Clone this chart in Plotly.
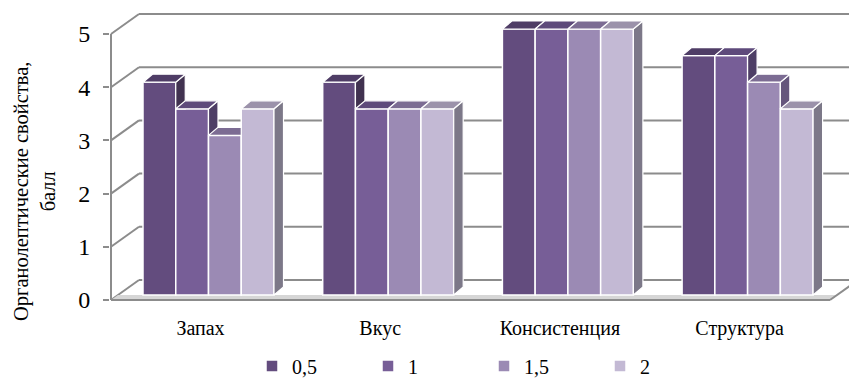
import plotly.graph_objects as go

# ---- data -------------------------------------------------------------
categories = ["Запах", "Вкус", "Консистенция", "Структура"]
series_names = ["0,5", "1", "1,5", "2"]
values_05 = [4.0, 4.0, 5.0, 4.5]
values_1 = [3.5, 3.5, 5.0, 4.5]
values_15 = [3.0, 3.5, 5.0, 4.0]
values_2 = [3.5, 3.5, 5.0, 3.5]
y_ticks = [0, 1, 2, 3, 4, 5]
y_title = "Органолептические свойства,<br>балл"

series_values = [values_05, values_1, values_15, values_2]

# ---- styling ----------------------------------------------------------
FONT = "Liberation Serif, Times New Roman, serif"
front_colors = ["#634C7E", "#775E97", "#9B8AB4", "#C3B9D4"]
top_colors = ["#4F3D66", "#5E4A7B", "#7C6C93", "#9B92AA"]
side_colors = ["#413250", "#4E3E66", "#65567C", "#7C7888"]
GRID = "#8C8C8C"

# ---- geometry (pixel layout converted to axis units) --------------------
FIG_W, FIG_H = 849, 385
PLOT_LEFT, PLOT_TOP, PLOT_BOTTOM = 110, 8, 305
PX_X = 179.7          # px per category
PX_Y = 53.2           # px per score unit
FIRST_GROUP_PX = 208.5
BASE_PX = 295

x_lo = -(FIRST_GROUP_PX - PLOT_LEFT) / PX_X
x_hi = x_lo + (FIG_W - PLOT_LEFT) / PX_X
y_lo = -(PLOT_BOTTOM - BASE_PX) / PX_Y
y_hi = (BASE_PX - PLOT_TOP) / PX_Y

FRONT_DY = -5 / PX_Y            # front axis sits slightly below the bar bases
FRONT_X = x_lo + 1 / PX_X
WALL_DX, WALL_DY = 28 / PX_X, 20 / PX_Y
FLOOR_X1 = x_lo + (830 - PLOT_LEFT) / PX_X
BAR_W = 32.75 / PX_X
BAR_DX, BAR_DY = 9.5 / PX_X, 8 / PX_Y
LABEL_SHIFT = 8 / PX_X

fig = go.Figure()

# front faces
for j, (name, vals) in enumerate(zip(series_names, series_values)):
    fig.add_trace(go.Bar(
        x=list(range(len(categories))), y=vals, name=name,
        offset=(j - 2) * BAR_W, width=BAR_W,
        marker=dict(color=front_colors[j], line=dict(color="white", width=1.5)),
        hoverinfo="skip",
    ))


def dedupe(pts):
    out = []
    for p in pts:
        if not out or abs(out[-1][0] - p[0]) > 1e-9 or abs(out[-1][1] - p[1]) > 1e-9:
            out.append(p)
    return out


def top_face(xl, xr, v, nv):
    dx, dy = BAR_DX, BAR_DY
    if nv is None or nv <= v:
        return [(xl, v), (xr, v), (xr + dx, v + dy), (xl + dx, v + dy)]
    c = min(nv, v + dy)
    t = (c - v) / dy
    pts = [(xl, v), (xr, v), (xr, c)]
    if t < 1:
        pts += [(xr + t * dx, c), (xr + dx, v + dy)]
    pts += [(xl + dx, v + dy)]
    return dedupe(pts)


def side_face(xr, v, c):
    dx, dy = BAR_DX, BAR_DY
    if c >= v:
        return None
    if c <= 0:
        return [(xr, 0), (xr + dx, dy), (xr + dx, v + dy), (xr, v)]
    if c < dy:
        return [(xr, c), (xr + c / dy * dx, c), (xr + dx, dy), (xr + dx, v + dy), (xr, v)]
    return [(xr, c), (xr + dx, c), (xr + dx, v + dy), (xr, v)]


def poly_xy(polys):
    xs, ys = [], []
    for p in polys:
        if not p:
            continue
        xs += [q[0] for q in p] + [p[0][0], None]
        ys += [q[1] for q in p] + [p[0][1], None]
    return xs, ys


tops = [[] for _ in series_names]
sides = [[] for _ in series_names]
for i in range(len(categories)):
    for j, vals in enumerate(series_values):
        v = vals[i]
        xl = i + (j - 2) * BAR_W
        xr = xl + BAR_W
        nv = series_values[j + 1][i] if j + 1 < len(series_values) else None
        tops[j].append(top_face(xl, xr, v, nv))
        sides[j].append(side_face(xr, v, nv if nv is not None else 0))

for j in range(len(series_names)):
    for polys, col in ((sides[j], side_colors[j]), (tops[j], top_colors[j])):
        xs, ys = poly_xy(polys)
        if not xs:
            continue
        fig.add_trace(go.Scatter(
            x=xs, y=ys, mode="lines", fill="toself", fillcolor=col,
            line=dict(color="white", width=1.2), showlegend=False,
            hoverinfo="skip",
        ))

# ---- walls and floor ---------------------------------------------------
shapes = []
line = dict(color=GRID, width=2)
for t in y_ticks:
    yb = FRONT_DY + WALL_DY + t
    shapes.append(dict(type="line", xref="x", yref="y", layer="below",
                       x0=FRONT_X + WALL_DX, x1=x_hi + 1, y0=yb, y1=yb, line=line))
    shapes.append(dict(type="line", xref="x", yref="y", layer="below",
                       x0=FRONT_X, x1=FRONT_X + WALL_DX,
                       y0=FRONT_DY + t, y1=yb, line=line))
# front axis line
shapes.append(dict(type="line", xref="x", yref="y", layer="below",
                   x0=FRONT_X, x1=FRONT_X, y0=FRONT_DY, y1=FRONT_DY + y_ticks[-1], line=line))
# floor slab edge shading
band = 5 / PX_Y
k = band * WALL_DX / WALL_DY
shapes.append(dict(type="path", xref="x", yref="y", layer="below",
                   path=(f"M{FRONT_X},{FRONT_DY} L{FLOOR_X1},{FRONT_DY} "
                         f"L{FLOOR_X1 + k},{FRONT_DY + band} L{FRONT_X + k},{FRONT_DY + band} Z"),
                   fillcolor="#D6D6D6", line=dict(width=0)))
# floor front edge and right edge
shapes.append(dict(type="line", xref="x", yref="y", layer="below",
                   x0=FRONT_X, x1=FLOOR_X1, y0=FRONT_DY, y1=FRONT_DY, line=line))
shapes.append(dict(type="line", xref="x", yref="y", layer="below",
                   x0=FLOOR_X1, x1=FLOOR_X1 + WALL_DX, y0=FRONT_DY, y1=FRONT_DY + WALL_DY,
                   line=line))

plot_w = FIG_W - PLOT_LEFT
plot_h = PLOT_BOTTOM - PLOT_TOP

fig.update_layout(
    width=FIG_W, height=FIG_H,
    margin=dict(l=PLOT_LEFT, r=0, t=PLOT_TOP, b=FIG_H - PLOT_BOTTOM, autoexpand=False),
    paper_bgcolor="white", plot_bgcolor="white",
    barmode="overlay",
    font=dict(family=FONT, color="black"),
    shapes=shapes,
    showlegend=True,
    legend=dict(orientation="h", x=(252 - PLOT_LEFT) / plot_w, xanchor="left",
                y=-0.205, yanchor="middle", font=dict(size=20, family=FONT),
                entrywidth=71, traceorder="normal", bgcolor="rgba(0,0,0,0)"),
    xaxis=dict(range=[x_lo, x_hi], visible=False, fixedrange=True),
    xaxis2=dict(range=[x_lo + LABEL_SHIFT, x_hi + LABEL_SHIFT], overlaying="x", anchor="y",
                side="bottom", tickvals=list(range(len(categories))), ticktext=categories,
                tickfont=dict(size=20, family=FONT), ticks="", showgrid=False,
                zeroline=False, showline=False, ticklabelstandoff=9),
    yaxis=dict(range=[y_lo, y_hi], visible=False, fixedrange=True),
    yaxis2=dict(range=[y_lo - FRONT_DY, y_hi - FRONT_DY], overlaying="y", anchor="x",
                side="left", tickvals=y_ticks, tickfont=dict(size=24, family=FONT),
                ticks="outside", ticklen=6, tickwidth=2, tickcolor=GRID,
                showgrid=False, zeroline=False, showline=False, ticklabelstandoff=8),
    annotations=[dict(
        text=y_title, textangle=-90, xref="paper", yref="paper",
        x=(34 - PLOT_LEFT) / plot_w, y=(PLOT_BOTTOM - 192) / plot_h,
        xanchor="center", yanchor="middle", showarrow=False,
        font=dict(size=20.5, family=FONT), align="center",
    )],
)

# invisible anchor trace so the overlay axes are rendered
fig.add_trace(go.Scatter(x=[None], y=[None], xaxis="x2", yaxis="y2",
                         showlegend=False, hoverinfo="skip"))

fig.write_html("out.html")
